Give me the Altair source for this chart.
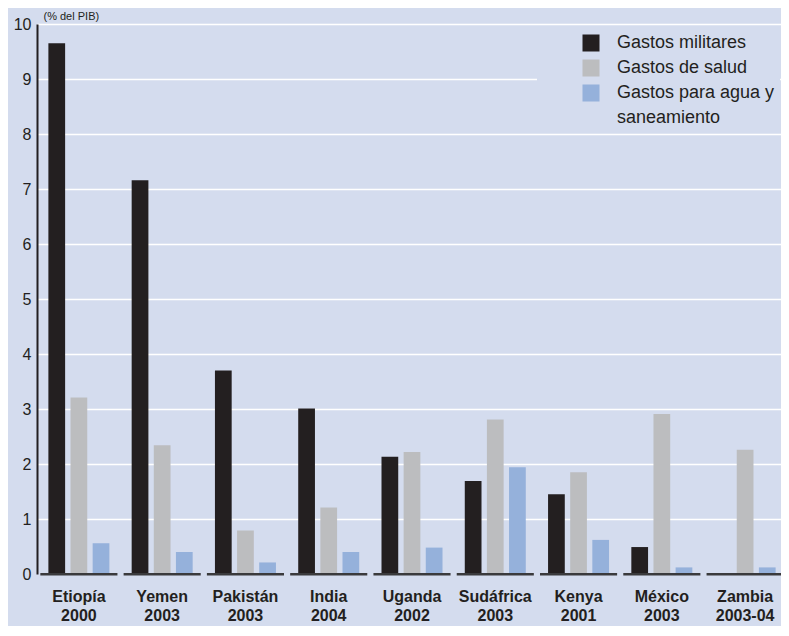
import altair as alt
import pandas as pd

countries = ["Etiopía", "Yemen", "Pakistán", "India", "Uganda", "Sudáfrica", "Kenya", "México", "Zambia"]
years = ["2000", "2003", "2003", "2004", "2002", "2003", "2001", "2003", "2003-04"]
series = ["Gastos militares", "Gastos de salud", "Gastos para agua y saneamiento"]
military = [9.65, 7.16, 3.70, 3.01, 2.13, 1.69, 1.45, 0.49, None]
health = [3.21, 2.34, 0.79, 1.21, 2.22, 2.81, 1.85, 2.91, 2.26]
water = [0.56, 0.40, 0.21, 0.40, 0.48, 1.94, 0.62, 0.12, 0.12]
y_ticks = list(range(0, 11))

colors = ["#231F20", "#BCBDBF", "#95B1DB"]
bg = "#D4DCEE"
font = "Liberation Sans Narrow, Arial Narrow, Liberation Sans, sans-serif"
ink = "#231F20"

cats = [f"{c}|{y}" for c, y in zip(countries, years)]
rows = []
for i, cat in enumerate(cats):
    for s, vals in zip(series, [military, health, water]):
        if vals[i] is not None:
            rows.append({"cat": cat, "series": s, "value": vals[i]})
df = pd.DataFrame(rows)
seg_df = pd.DataFrame({"cat": cats})

x_enc = alt.X(
    "cat:N",
    sort=cats,
    scale=alt.Scale(range=[0, 750], paddingInner=0.074, paddingOuter=0.04),
    axis=alt.Axis(
        title=None, labelAngle=0, domain=False, ticks=False,
        labelFontWeight="bold", labelFontSize=16, labelLineHeight=19,
        labelPadding=14, labelColor=ink, labelFont=font,
        labelExpr="split(datum.label, '|')",
    ),
)

bars = alt.Chart(df).mark_bar().encode(
    x=x_enc,
    xOffset=alt.XOffset("series:N", sort=series,
                        scale=alt.Scale(paddingInner=0.244, paddingOuter=0.364)),
    y=alt.Y(
        "value:Q",
        scale=alt.Scale(domain=[0, 10], nice=False),
        axis=alt.Axis(
            values=y_ticks, title="(% del PIB)", titleAngle=0, titleAlign="left",
            titleX=6, titleY=-5, titleBaseline="alphabetic", titleFontSize=11,
            titleFontWeight="normal", titleColor=ink, titleFont=font,
            grid=True, gridColor="white", gridWidth=1.6,
            gridOpacity=alt.condition("datum.value == 0", alt.value(0), alt.value(1)),
            domainColor=ink, domainWidth=2, ticks=False, labelPadding=6,
            labelFontSize=16, labelColor=ink, labelFont=font,
        ),
    ),
    color=alt.Color(
        "series:N",
        scale=alt.Scale(domain=series + ["saneamiento"], range=colors + ["transparent"]),
        legend=alt.Legend(
            orient="none", legendX=500, legendY=5, title=None, fillColor=bg,
            padding=5, symbolType="square", symbolSize=289, symbolStrokeWidth=0,
            symbolOffset=40, labelOffset=17, labelFontSize=18, labelFont=font,
            labelColor=ink, rowPadding=7, labelLimit=300,
            labelExpr="datum.label == 'Gastos para agua y saneamiento' ? 'Gastos para agua y' : datum.label",
        ),
    ),
)

segments = alt.Chart(seg_df).mark_bar(color="#3A3A3C").encode(
    x=alt.X("cat:N", sort=cats),
    y=alt.datum(-0.025),
    y2=alt.datum(0.02),
)

chart = alt.layer(bars, segments).properties(
    width=744, height=550,
    autosize=alt.AutoSizeParams(type="none"),
    padding={"left": 29, "top": 16, "right": 0, "bottom": 52},
).configure(background=bg).configure_view(stroke=None)

chart.save("out.html", embed_options={"renderer": "svg", "actions": False})
